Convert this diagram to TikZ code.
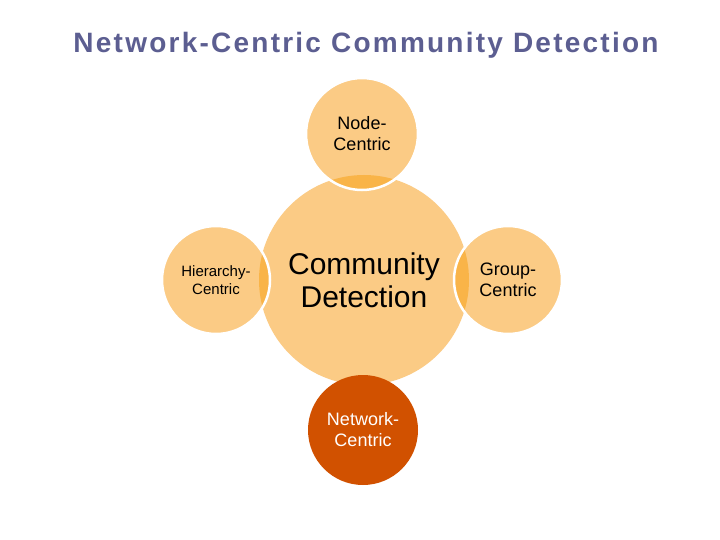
\documentclass[tikz,border=0pt]{standalone}
\usepackage{fontspec}
\setmainfont{Liberation Sans}
\usetikzlibrary{positioning}

\definecolor{petal}{RGB}{251,203,133}
\definecolor{overlap}{RGB}{249,180,72}
\definecolor{netdark}{RGB}{209,81,0}
\definecolor{titleblue}{RGB}{92,94,145}

\begin{document}
\begin{tikzpicture}[x=1pt, y=-1pt,
  hub/.style={circle, fill=petal, minimum size=210pt, inner sep=0pt,
              align=center, font=\fontsize{30}{33}\selectfont},
  petalnode/.style={circle, fill=petal, minimum size=110pt, inner sep=0pt,
                    align=center, font=\fontsize{18}{21}\selectfont},
  rim/.style={draw=white, line width=2.5pt},
]
  \useasboundingbox[fill=white] (0,0) rectangle (720,540);

  \node[text=titleblue,
        font=\bfseries\fontsize{28}{34}\selectfont\addfontfeatures{LetterSpace=8}]
    (title) at (366,45) {Network-Centric Community Detection};

  \node[hub] (cd) at (364,280) {Community\\Detection};
  \node[petalnode] (nc) at (362,134) {Node-\\Centric};
  \node[petalnode, minimum size=108pt, font=\fontsize{15}{18}\selectfont]
    (hc) at (216,280) {Hierarchy-\\Centric};
  \node[petalnode, minimum size=108pt] (gc) at (508,280) {Group-\\Centric};

  % darker where the petals sit on the hub
  \foreach \p/\r in {nc/56pt, hc/54pt, gc/54pt} {
    \begin{scope}
      \clip (cd.center) circle[radius=105pt];
      \fill[overlap] (\p.center) circle[radius=\r];
    \end{scope}
    \draw[rim] (\p.center) circle[radius=\r];
  }

  \node[petalnode, fill=netdark, text=white] (wc) at (363,430) {Network-\\Centric};
\end{tikzpicture}
\end{document}
